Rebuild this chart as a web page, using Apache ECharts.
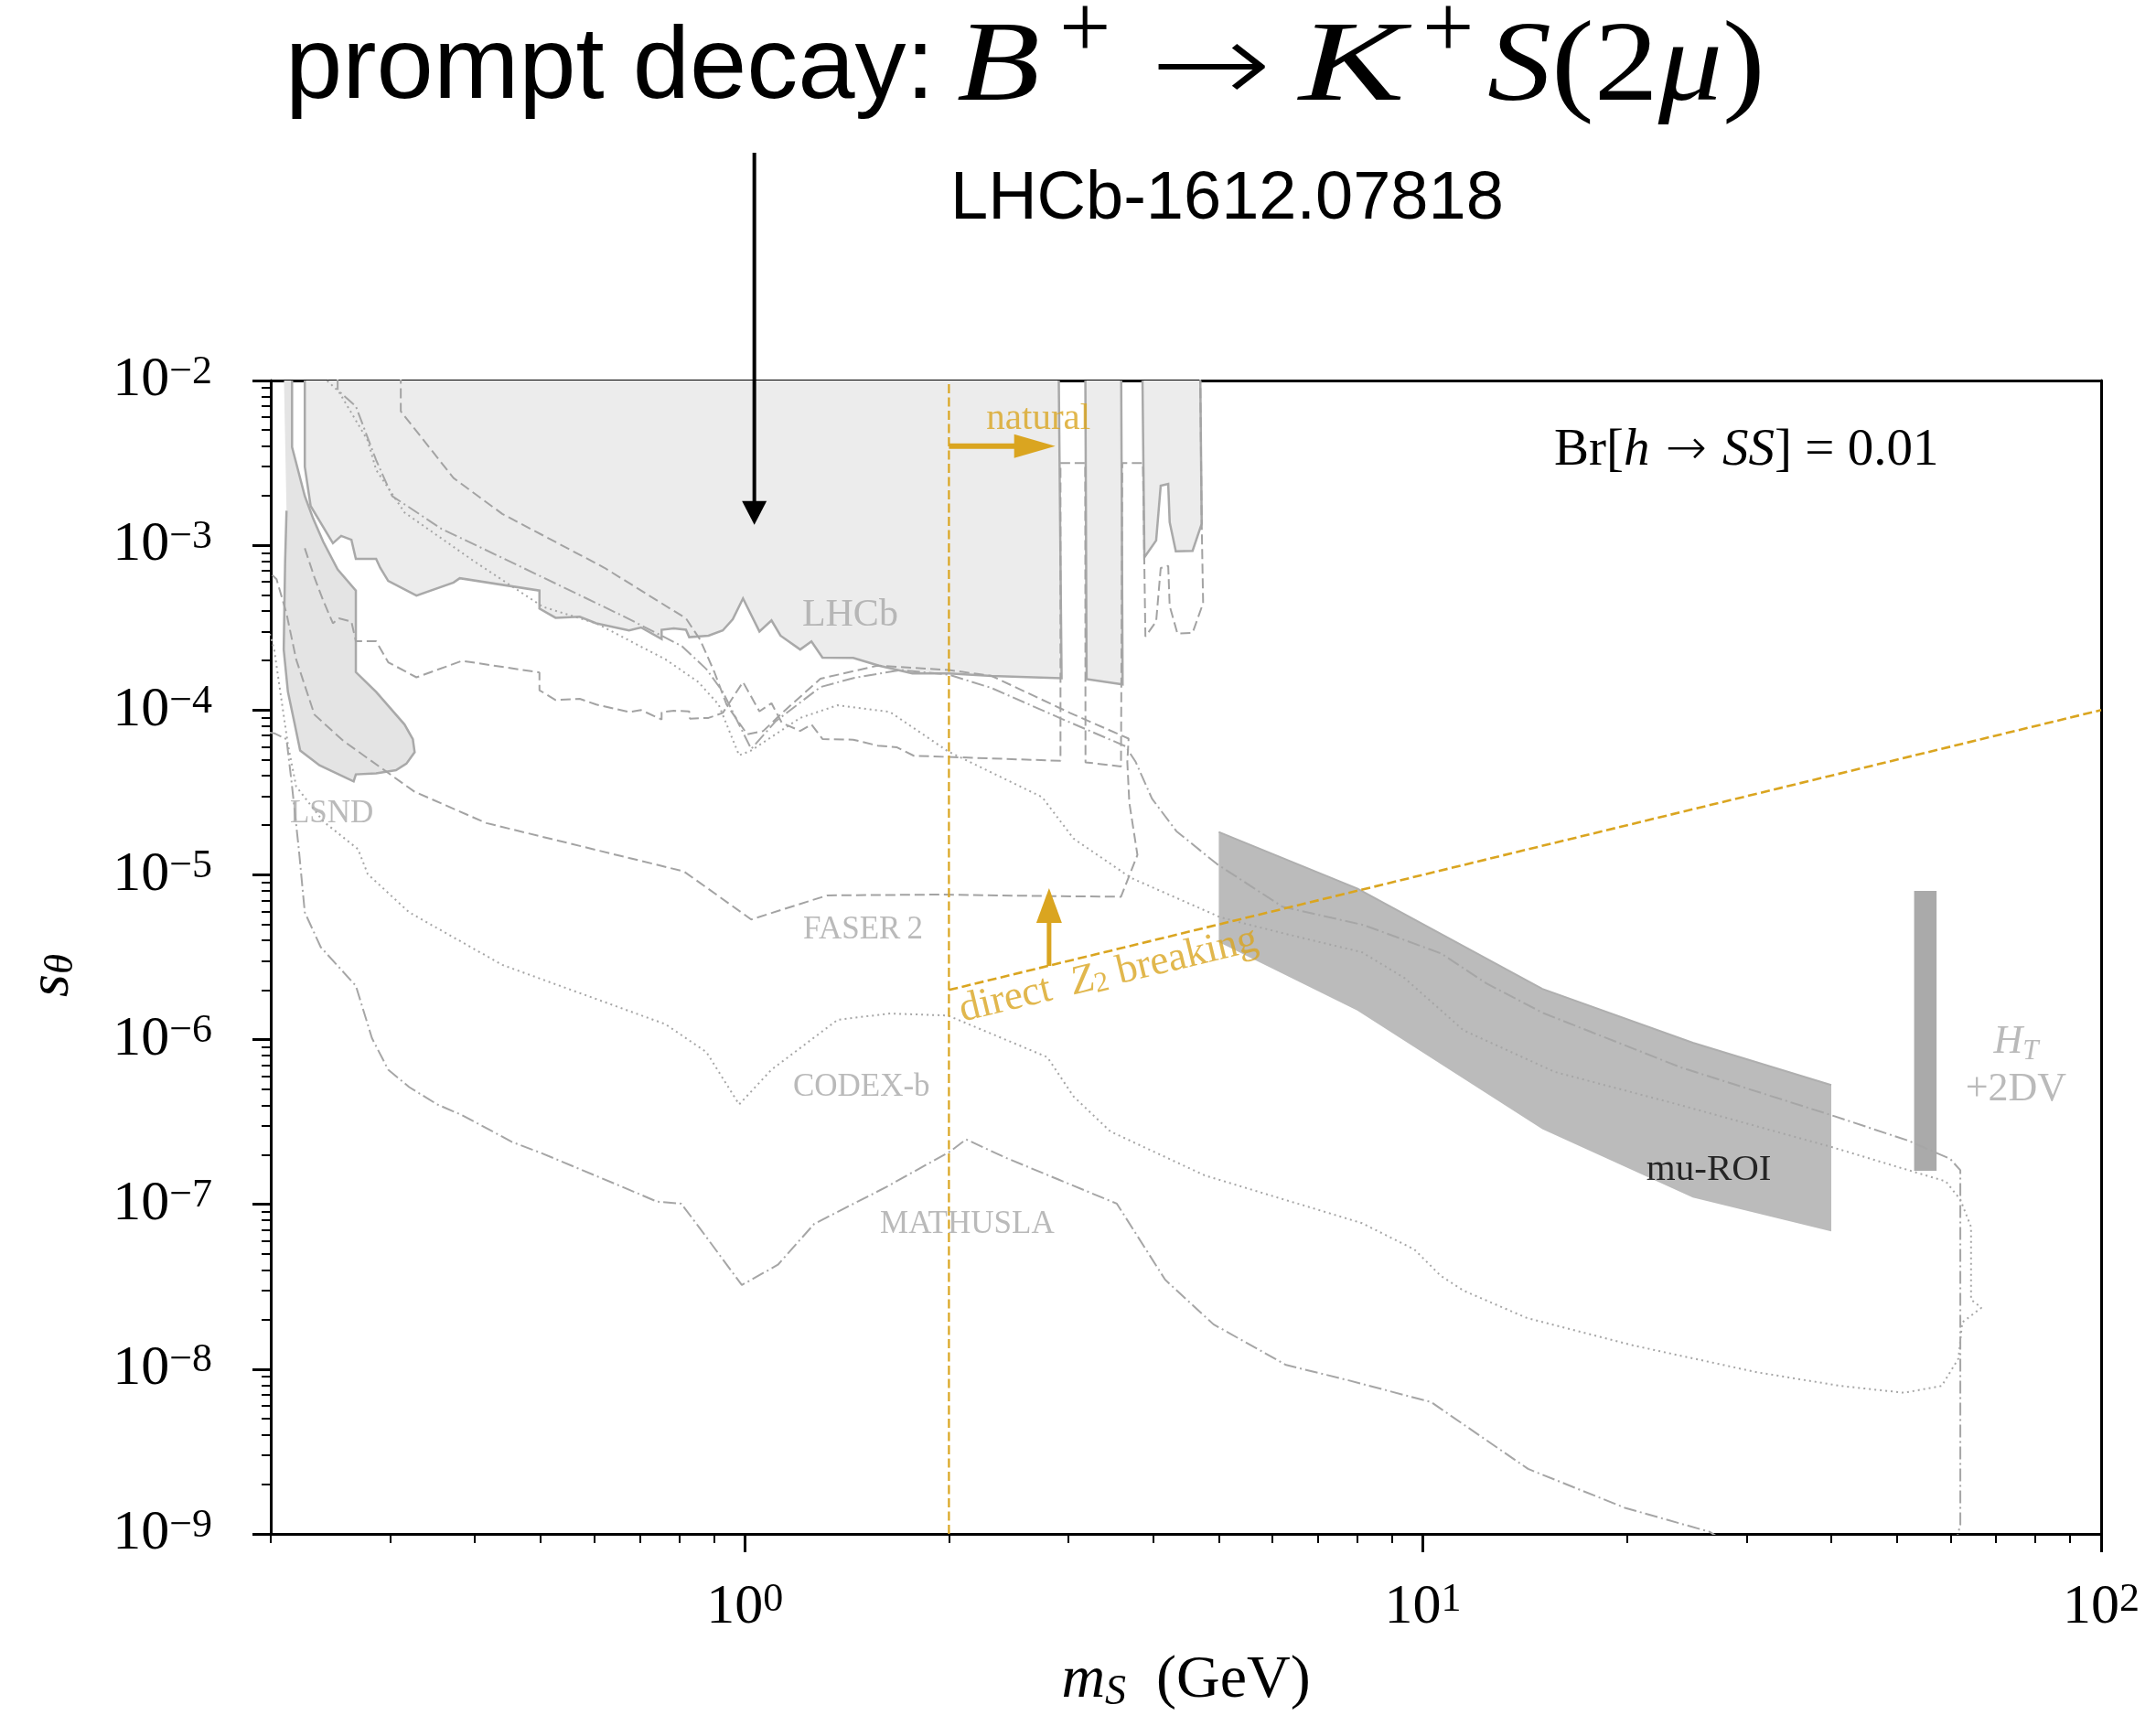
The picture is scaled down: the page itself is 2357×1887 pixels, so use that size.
<!DOCTYPE html>
<html>
<head>
<meta charset="utf-8">
<title>prompt decay: B+ → K+ S(2μ)</title>
<script src="https://cdn.jsdelivr.net/npm/echarts@6/dist/echarts.min.js"></script>
<style>
  html, body { margin: 0; padding: 0; background: #fff; }
  #main { width: 2357px; height: 1887px; }
</style>
</head>
<body>
<div id="main"></div>
<script>
// ---- values: [m_S (GeV), s_theta] ----
const lhcbMain = [[0.2245,1.2e-2],[0.2245,3.0e-3],[0.229,1.73e-3],[0.247,1.03e-3],[0.254,1.14e-3],[0.263,1.08e-3],[0.267,8.26e-4],[0.286,8.26e-4],[0.290,7.30e-4],[0.298,6.08e-4],[0.328,4.95e-4],[0.372,5.94e-4],[0.380,6.31e-4],[0.498,5.31e-4],[0.498,4.13e-4],[0.526,3.63e-4],[0.571,3.68e-4],[0.604,3.36e-4],[0.675,3.04e-4],[0.703,3.17e-4],[0.754,2.70e-4],[0.754,3.07e-4],[0.786,3.13e-4],[0.819,3.07e-4],[0.828,2.77e-4],[0.884,2.83e-4],[0.928,3.04e-4],[0.960,3.55e-4],[0.994,4.76e-4],[1.051,3.00e-4],[1.095,3.50e-4],[1.129,2.83e-4],[1.207,2.33e-4],[1.254,2.61e-4],[1.302,2.08e-4],[1.445,2.07e-4],[1.577,1.86e-4],[1.767,1.67e-4],[2.0,1.67e-4],[2.312,1.61e-4],[2.932,1.56e-4],[2.903,1.2e-2]];
const lhcbStrip2 = [[3.178,1.2e-2],[3.192,1.54e-4],[3.607,1.43e-4],[3.589,1.2e-2]];
const lhcbStrip3 = [[3.857,1.2e-2],[3.884,8.45e-4],[4.042,1.07e-3],[4.105,2.30e-3],[4.211,2.36e-3],[4.232,1.38e-3],[4.321,9.18e-4],[4.574,9.25e-4],[4.718,1.35e-3],[4.694,1.2e-2]];
const lsndRegion = [[0.209,1.2e-2],[0.215,1.2e-2],[0.215,3.94e-3],[0.220,2.74e-3],[0.2245,1.99e-3],[0.231,1.45e-3],[0.239,1.05e-3],[0.251,7.13e-4],[0.267,5.31e-4],[0.267,1.70e-4],[0.286,1.29e-4],[0.315,8.17e-5],[0.324,6.65e-5],[0.326,5.55e-5],[0.317,4.73e-5],[0.306,4.32e-5],[0.286,4.13e-5],[0.267,4.07e-5],[0.265,3.69e-5],[0.236,4.62e-5],[0.221,5.68e-5],[0.217,8.17e-5],[0.212,1.29e-4],[0.209,2.33e-4],[0.210,7.99e-4],[0.211,1.62e-3]];
const faser2 = [[0.311,1.1e-2],[0.311,6.50e-3],[0.372,2.56e-3],[0.439,1.55e-3],[0.621,7.30e-4],[0.819,3.60e-4],[0.859,2.68e-4],[0.902,1.70e-4],[0.940,1.08e-4],[1.008,7.13e-5],[1.065,7.47e-5],[1.142,9.82e-5],[1.293,1.55e-4],[1.570,1.86e-4],[2.0,1.75e-4],[2.312,1.61e-4],[3.021,9.59e-5],[3.681,6.71e-5],[3.665,4.84e-5],[3.690,2.74e-5],[3.793,1.32e-5],[3.587,7.36e-6],[2.776,7.43e-6],[1.957,7.59e-6],[1.323,7.50e-6],[1.022,5.36e-6],[0.813,1.05e-5],[0.416,2.06e-5],[0.326,3.19e-5],[0.256,6.49e-5],[0.232,9.37e-5],[0.218,2.03e-4],[0.211,3.85e-4],[0.204,6.22e-4],[0.198,7.0e-4]];
const lhcbFuture = [[0.2245,9.59e-4],[0.232,6.37e-4],[0.239,4.62e-4],[0.247,3.36e-4],[0.252,3.60e-4],[0.263,3.44e-4],[0.267,2.62e-4],[0.286,2.62e-4],[0.298,1.95e-4],[0.328,1.58e-4],[0.383,1.99e-4],[0.498,1.69e-4],[0.498,1.32e-4],[0.526,1.15e-4],[0.571,1.17e-4],[0.604,1.08e-4],[0.675,9.73e-5],[0.703,1.0e-4],[0.754,8.76e-5],[0.754,9.73e-5],[0.786,9.9e-5],[0.828,9.82e-5],[0.830,8.87e-5],[0.884,8.96e-5],[0.928,9.61e-5],[0.994,1.48e-4],[1.051,9.82e-5],[1.095,1.10e-4],[1.134,8.37e-5],[1.207,7.47e-5],[1.254,8.17e-5],[1.302,6.67e-5],[1.445,6.61e-5],[1.570,6.08e-5],[1.677,5.94e-5],[1.775,5.28e-5],[2.921,4.92e-5],[2.921,3.16e-3],[3.177,3.16e-3],[3.18,4.82e-5],[3.587,4.55e-5],[3.603,3.16e-3],[3.864,3.16e-3],[3.897,2.79e-4],[4.042,3.45e-4],[4.105,7.28e-4],[4.211,7.50e-4],[4.232,4.28e-4],[4.345,2.91e-4],[4.574,2.94e-4],[4.741,4.46e-4],[4.718,1.35e-3],[4.694,1.1e-2]];
const codexb = [[0.239,1.05e-2],[0.252,8.56e-3],[0.278,4.32e-3],[0.286,2.87e-3],[0.315,1.58e-3],[0.399,7.99e-4],[0.504,4.23e-4],[0.604,3.36e-4],[0.764,2.03e-4],[0.854,1.48e-4],[0.915,1.08e-4],[0.981,5.31e-5],[1.022,5.68e-5],[1.207,8.96e-5],[1.371,1.07e-4],[1.638,9.73e-5],[1.993,5.62e-5],[2.745,2.96e-5],[3.053,1.66e-5],[3.713,9.57e-6],[5.028,5.52e-6],[6.204,4.43e-6],[8.13,3.39e-6],[9.40,2.36e-6],[11.47,1.14e-6],[15.64,6.37e-7],[24.1,3.98e-7],[40.17,2.22e-7],[53.4,1.56e-7],[59.0,1.38e-7],[62.0,1.07e-7],[64.3,7.30e-8],[64.3,2.64e-8],[66.6,2.36e-8],[62.4,1.92e-8],[61.6,1.16e-8],[58.2,7.91e-9],[51.2,7.19e-9],[41.3,7.91e-9],[31.1,9.57e-9],[20.3,1.40e-8],[14.21,2.05e-8],[11.47,3.00e-8],[10.62,3.69e-8],[9.71,5.33e-8],[8.13,7.69e-8],[4.765,1.50e-7],[3.46,2.77e-7],[3.053,4.52e-7],[2.794,7.82e-7],[1.993,1.40e-6],[1.638,1.44e-6],[1.371,1.32e-6],[1.095,6.57e-7],[0.981,4.04e-7],[0.878,8.39e-7],[0.764,1.24e-6],[0.439,2.84e-6],[0.320,5.92e-6],[0.278,1.01e-5],[0.269,1.43e-5],[0.239,2.11e-5],[0.218,3.44e-5],[0.212,6.18e-5],[0.2024,2.31e-4],[0.199,3.0e-4]];
const mathuslaUpper = [[0.251,1.05e-2],[0.251,8.75e-3],[0.267,6.97e-3],[0.286,3.29e-3],[0.302,1.99e-3],[0.357,1.26e-3],[0.471,7.30e-4],[0.665,3.68e-4],[0.808,2.44e-4],[0.878,1.77e-4],[0.928,1.29e-4],[1.022,5.81e-5],[1.111,8.56e-5],[1.293,1.38e-4],[1.452,1.57e-4],[1.696,1.75e-4],[2.0,1.64e-4],[2.312,1.36e-4],[2.932,8.85e-5],[3.643,6.03e-5],[3.771,4.84e-5],[3.985,2.90e-5],[4.329,1.84e-5],[4.973,1.16e-5],[6.204,6.41e-6],[8.185,4.95e-6],[10.64,3.33e-6],[12.39,2.20e-6],[15.04,1.45e-6],[24.07,6.75e-7],[40.17,3.46e-7],[51.9,2.44e-7],[59.9,1.89e-7],[62.0,1.61e-7],[62.0,1.14e-9],[60.7,8e-10]];
const mathuslaLower = [[0.199,7.3e-5],[0.2024,7.23e-5],[0.211,6.65e-5],[0.215,3.44e-5],[0.220,1.43e-5],[0.2245,5.92e-6],[0.237,3.64e-6],[0.267,2.12e-6],[0.282,1.02e-6],[0.298,6.57e-7],[0.320,5.15e-7],[0.352,4.04e-7],[0.383,3.48e-7],[0.454,2.39e-7],[0.504,2.03e-7],[0.665,1.26e-7],[0.742,1.04e-7],[0.806,1.01e-7],[0.857,7.23e-8],[0.990,3.24e-8],[1.119,4.30e-8],[1.266,7.62e-8],[1.620,1.28e-7],[2.010,2.10e-7],[2.120,2.48e-7],[2.424,1.92e-7],[2.895,1.42e-7],[3.537,1.01e-7],[4.167,3.49e-8],[4.911,1.87e-8],[6.283,1.06e-8],[7.72,8.61e-9],[10.28,6.31e-9],[14.29,2.48e-9],[19.85,1.44e-9],[26.46,1.03e-9],[28.5,8.5e-10]];
const muRoiBand = [[5,1.82e-5],[8,8.27e-6],[15,2.03e-6],[25,9.57e-7],[40,5.30e-7],[40,6.85e-8],[25,1.10e-7],[15,2.86e-7],[8,1.50e-6],[5,3.91e-6]];
const htBarMass = [53, 57.2];
const htBarMix = [1.6e-7, 8.0e-6];
const naturalLine = [[2, 1e-9], [2, 1e-2]];
const z2Line = [[2, 2e-6], [100, 1e-4]];
const naturalArrow = [[2, 4.0e-3], [2.87, 4.0e-3]];
const z2Arrow = [[2.81, 2.8e-6], [2.81, 8.3e-6]];
const promptArrowTip = [1.033, 1.33e-3];

// ticks
const xMajorExp = [0, 1, 2];
const yMajorExp = [-9, -8, -7, -6, -5, -4, -3, -2];
const minorMult = [2, 3, 4, 5, 6, 7, 8, 9];
const xRange = [0.2, 100];
const yRange = [1e-9, 1e-2];

// text labels and their anchors (in data units)
const regionNames = ['LHCb', 'LSND', 'FASER\u20092', 'CODEX-b', 'MATHUSLA'];
const regionAnchors = [[1.43, 3.76e-4], [0.246, 2.33e-5], [1.494, 4.64e-6], [1.486, 5.1e-7], [2.128, 7.5e-8]];

const lg = Math.log10;
const toLog = pts => pts.map(p => [lg(p[0]), lg(p[1])]);

const SERIF = "'Liberation Serif', 'DejaVu Serif', serif";
const SANS = "'Liberation Sans', Arial, sans-serif";
const ARROWFONT = "'DejaVu Sans', sans-serif";
const EDGE = '#a9a9a9';
const GOLD = '#daa520';

const xMinor = [], yMinor = [];
[-1, 0, 1].forEach(e => minorMult.forEach(k => {
  const v = k * Math.pow(10, e);
  if (v >= xRange[0] - 1e-9 && v <= xRange[1]) xMinor.push(lg(v));
}));
for (let e = -9; e <= -3; e++) minorMult.forEach(k => yMinor.push(lg(k) + e));

const expText = e => (e < 0 ? '\u2212' + (-e) : String(e));
const tickRich = {
  b: { fontFamily: SERIF, fontSize: 62, lineHeight: 62, color: '#000' },
  s: { fontFamily: SERIF, fontSize: 44, lineHeight: 26, verticalAlign: 'top', color: '#000' }
};
const expLabel = v => '{b|10}{s|' + expText(Math.round(v)) + '}';
const mathRich = (size, color) => ({
  n: { fontFamily: SERIF, fontSize: size, color: color },
  it: { fontFamily: SERIF, fontSize: size, fontStyle: 'italic', color: color },
  ar: { fontFamily: ARROWFONT, fontWeight: 200, fontSize: Math.round(size * 0.95), color: color },
  sub: { fontFamily: SERIF, fontSize: Math.round(size * 0.7), fontStyle: 'italic', color: color, verticalAlign: 'bottom', lineHeight: Math.round(size * 0.45) },
  subn: { fontFamily: SERIF, fontSize: Math.round(size * 0.7), color: color, verticalAlign: 'bottom', lineHeight: Math.round(size * 0.45) }
});

// filled region drawn through the axes
function region(name, pts, fill, edge, closedEdge, z) {
  const d = toLog(pts);
  return {
    type: 'custom', name: name, z: z, silent: true, clip: true,
    data: [[0, -5]],
    renderItem: function (params, api) {
      const c = d.map(p => api.coord(p));
      const kids = [{ type: 'polygon', shape: { points: c }, style: { fill: fill, stroke: closedEdge ? edge : null, lineWidth: 2.5 } }];
      if (edge && !closedEdge) {
        kids.push({ type: 'polyline', shape: { points: c.slice(1) }, style: { stroke: edge, lineWidth: 2.5, fill: null } });
      }
      return { type: 'group', children: kids };
    }
  };
}

function curve(name, pts, dash, color, width, z) {
  return {
    type: 'line', name: name, data: toLog(pts), symbol: 'none', showSymbol: false,
    silent: true, clip: true, z: z,
    lineStyle: { color: color, width: width, type: dash }
  };
}

function arrow(tail, tip, color, shaft, headLen, headHalf, tailPixelY) {
  const d = toLog([tail || tip, tip]);
  return {
    type: 'custom', silent: true, clip: false, z: 9,
    data: [[0, -5]],
    renderItem: function (params, api) {
      const b = api.coord(d[1]);
      const a = tailPixelY != null ? [b[0], tailPixelY] : api.coord(d[0]);
      const dx = b[0] - a[0], dy = b[1] - a[1], L = Math.hypot(dx, dy);
      const ux = dx / L, uy = dy / L;
      const base = [b[0] - ux * headLen, b[1] - uy * headLen];
      return {
        type: 'group', children: [
          { type: 'line', shape: { x1: a[0], y1: a[1], x2: base[0] + ux * 2, y2: base[1] + uy * 2 }, style: { stroke: color, lineWidth: shaft } },
          { type: 'polygon', shape: { points: [b, [base[0] - uy * headHalf, base[1] + ux * headHalf], [base[0] + uy * headHalf, base[1] - ux * headHalf]] }, style: { fill: color } }
        ]
      };
    }
  };
}

const grayLabel = { color: '#a9a9a9', fontFamily: SERIF, fontSize: 35 };
const labelData = regionNames.map((t, i) => ({
  value: [lg(regionAnchors[i][0]), lg(regionAnchors[i][1])],
  label: Object.assign({ show: true, position: 'inside', formatter: t }, grayLabel, t === 'LHCb' ? { fontSize: 42 } : {})
}));
labelData.push({
  value: [lg(26.4), lg(1.61e-7)],
  label: { show: true, position: 'inside', formatter: 'mu-ROI', color: '#000', fontFamily: SERIF, fontSize: 41 }
});
labelData.push({
  value: [lg(74.9), lg(6.95e-7)],
  label: { show: true, position: 'inside', align: 'center', formatter: '{it|H}{sub|T}\n{n|+2DV}', lineHeight: 52, rich: mathRich(44, '#a9a9a9') }
});
labelData.push({
  value: [lg(2.71), lg(5.84e-3)],
  label: { show: true, position: 'inside', formatter: 'natural', color: GOLD, fontFamily: SERIF, fontSize: 41 }
});
labelData.push({
  value: [lg(3.44), lg(2.46e-6)],
  label: { show: true, position: 'inside', rotate: 13.55, formatter: '{n|direct  }{it|Z}{subn|2}{n| breaking}', rich: mathRich(45, GOLD) }
});

const hideAxis = { axisLabel: { show: false }, splitLine: { show: false } };

const option = {
  backgroundColor: '#fff',
  animation: false,
  grid: { left: 296, right: 60, top: 416, bottom: 210, containLabel: false },
  xAxis: [
    {
      type: 'value', min: lg(xRange[0]), max: lg(xRange[1]), position: 'bottom',
      axisLine: { show: true, onZero: false, lineStyle: { color: '#000', width: 3 } },
      axisTick: { show: true, customValues: xMajorExp, length: 20, lineStyle: { color: '#000', width: 3 } },
      axisLabel: { show: true, customValues: xMajorExp, margin: 50, formatter: expLabel, rich: tickRich },
      splitLine: { show: false },
      name: '{it|m}{sub|S}{n|  (GeV)}', nameLocation: 'middle', nameGap: 125,
      nameTextStyle: { rich: mathRich(66, '#000'), lineHeight: 72 }
    },
    Object.assign({
      type: 'value', min: lg(xRange[0]), max: lg(xRange[1]), position: 'bottom',
      axisLine: { show: false, onZero: false },
      axisTick: { show: true, customValues: xMinor, length: 10, lineStyle: { color: '#000', width: 2 } }
    }, hideAxis),
    Object.assign({
      type: 'value', min: lg(xRange[0]), max: lg(xRange[1]), position: 'top',
      axisLine: { show: true, onZero: false, lineStyle: { color: '#000', width: 3 } },
      axisTick: { show: false }
    }, hideAxis)
  ],
  yAxis: [
    {
      type: 'value', min: lg(yRange[0]), max: lg(yRange[1]), position: 'left',
      axisLine: { show: true, onZero: false, lineStyle: { color: '#000', width: 3 } },
      axisTick: { show: true, customValues: yMajorExp, length: 20, lineStyle: { color: '#000', width: 3 } },
      axisLabel: { show: true, customValues: yMajorExp, margin: 64, formatter: expLabel, rich: tickRich },
      splitLine: { show: false },
      name: '{it|s}{sub|\u03b8}', nameLocation: 'middle', nameGap: 206,
      nameTextStyle: { rich: mathRich(64, '#000'), lineHeight: 66, padding: [0, 40, 0, 0] }
    },
    Object.assign({
      type: 'value', min: lg(yRange[0]), max: lg(yRange[1]), position: 'left',
      axisLine: { show: false, onZero: false },
      axisTick: { show: true, customValues: yMinor, length: 10, lineStyle: { color: '#000', width: 2 } }
    }, hideAxis),
    Object.assign({
      type: 'value', min: lg(yRange[0]), max: lg(yRange[1]), position: 'right',
      axisLine: { show: true, onZero: false, lineStyle: { color: '#000', width: 3 } },
      axisTick: { show: false }
    }, hideAxis)
  ],
  series: [
    region('LSND', lsndRegion, '#e4e4e4', EDGE, false, 1),
    region('LHCb', lhcbMain, '#ececec', EDGE, true, 1),
    region('LHCb2', lhcbStrip2, '#ececec', EDGE, true, 1),
    region('LHCb3', lhcbStrip3, '#ececec', EDGE, true, 1),
    {
      type: 'custom', name: 'mu-ROI', z: 2, silent: true, clip: true, data: [[0, -5]],
      renderItem: function (params, api) {
        const c = toLog(muRoiBand).map(p => api.coord(p));
        return { type: 'group', children: [
          { type: 'polygon', shape: { points: c }, style: { fill: '#bbbbbb' } },
          { type: 'polyline', shape: { points: c.slice(0, 5) }, style: { stroke: '#afafaf', lineWidth: 2, fill: null } }
        ] };
      }
    },
    {
      type: 'custom', name: 'HT+2DV', z: 2, silent: true, clip: true, data: [[0, -5]],
      renderItem: function (params, api) {
        const p1 = api.coord([lg(htBarMass[0]), lg(htBarMix[1])]);
        const p2 = api.coord([lg(htBarMass[1]), lg(htBarMix[0])]);
        return { type: 'rect', shape: { x: p1[0], y: p1[1], width: p2[0] - p1[0], height: p2[1] - p1[1] }, style: { fill: '#aaaaaa' } };
      }
    },
    curve('LHCb future', lhcbFuture, [11, 5], '#a3a3a3', 2, 3),
    curve('FASER 2', faser2, [11, 5], '#a3a3a3', 2, 3),
    curve('CODEX-b', codexb, [2, 4], '#a6a6a6', 2, 3),
    curve('MATHUSLA', mathuslaUpper, [14, 4, 2, 4], '#a6a6a6', 2, 3),
    curve('MATHUSLA low', mathuslaLower, [14, 4, 2, 4], '#a6a6a6', 2, 3),
    curve('natural', naturalLine, [10, 4.5], GOLD, 2.2, 4),
    curve('direct Z2', z2Line, [10, 4.5], GOLD, 2.6, 4),
    arrow(naturalArrow[0], naturalArrow[1], GOLD, 6, 45, 13),
    arrow(z2Arrow[0], z2Arrow[1], GOLD, 5, 38, 14),
    arrow(null, promptArrowTip, '#000', 4, 26, 13.5, 167),
    {
      type: 'scatter', name: 'labels', z: 8, silent: true, symbolSize: 1,
      itemStyle: { color: 'rgba(0,0,0,0)' },
      data: labelData
    }
  ],
  graphic: [
    { type: 'text', x: 312, y: 76, style: { text: 'prompt decay:', fontFamily: SANS, fontSize: 112, fill: '#000', align: 'left', verticalAlign: 'middle' } },
    { type: 'text', x: 1046, y: 76, scaleX: 1.2, style: { text: 'B', fontFamily: SERIF, fontStyle: 'italic', fontSize: 124, fill: '#000', align: 'left', verticalAlign: 'middle' } },
    { type: 'text', x: 1158, y: 37, style: { text: '+', fontFamily: SERIF, fontSize: 100, fill: '#000', align: 'left', verticalAlign: 'middle' } },
    { type: 'text', x: 1324, y: 80, scaleX: 1.28, style: { text: '\u2192', fontFamily: ARROWFONT, fontWeight: 200, fontSize: 124, fill: '#000', align: 'center', verticalAlign: 'middle' } },
    { type: 'text', x: 1420, y: 76, scaleX: 1.4, style: { text: 'K', fontFamily: SERIF, fontStyle: 'italic', fontSize: 124, fill: '#000', align: 'left', verticalAlign: 'middle' } },
    { type: 'text', x: 1555, y: 37, style: { text: '+', fontFamily: SERIF, fontSize: 100, fill: '#000', align: 'left', verticalAlign: 'middle' } },
    { type: 'text', x: 1626, y: 76, scaleX: 1.13, style: { text: '{it|S}{n|(2}{it|\u03bc}{n|)}', rich: mathRich(124, '#000'), align: 'left', verticalAlign: 'middle' } },
    { type: 'text', x: 1039, y: 219, style: { text: 'LHCb-1612.07818', fontFamily: SANS, fontSize: 74, fill: '#000', align: 'left', verticalAlign: 'middle' } },
    { type: 'text', x: 1699, y: 493, style: { text: '{n|Br[}{it|h}{ar| \u2192 }{it|SS}{n|] = 0.01}', rich: mathRich(57, '#000'), align: 'left', verticalAlign: 'middle' } }
  ]
};

const chart = echarts.init(document.getElementById('main'));
chart.setOption(option);
</script>
</body>
</html>
